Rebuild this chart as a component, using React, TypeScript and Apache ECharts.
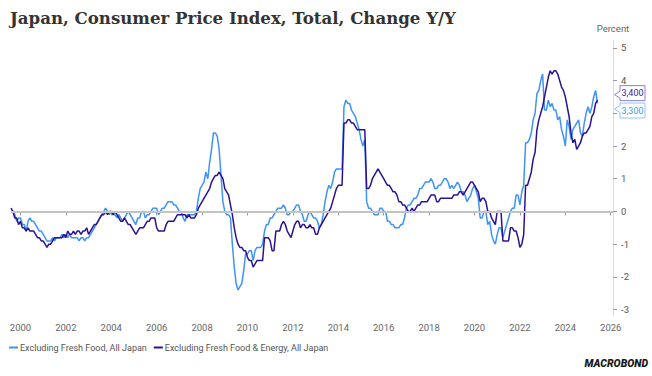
import React, { useEffect, useRef } from "react";
import * as echarts from "echarts";

// Monthly series start: August 1999
const START_YEAR = 1999;
const START_MONTH = 8;

const SERIES_NAMES = [
  "Excluding Fresh Food, All Japan",
  "Excluding Fresh Food & Energy, All Japan",
];

// Japan CPI excluding fresh food, % y/y (Aug 1999 - Jun 2025)
const exFreshFood: number[] = [
  0.0, 0.0, -0.1, -0.3, -0.2,
  -0.2, -0.4, -0.4, -0.6, -0.3, -0.2, -0.3, -0.3, -0.4, -0.5, -0.6, -0.6,
  -0.7, -0.8, -0.9, -0.9, -0.9, -0.8, -0.9, -0.8, -0.8, -0.8, -0.7, -0.8,
  -0.7, -0.8, -0.7, -0.8, -0.8, -0.8, -0.8, -0.9, -0.8, -0.8, -0.9, -0.8,
  -0.8, -0.7, -0.6, -0.5, -0.4, -0.3, -0.2, -0.1, 0.0, 0.1, 0.0, -0.1,
  0.0, -0.1, -0.1, -0.2, -0.1, -0.2, -0.3, -0.2, -0.1, 0.0, -0.1, -0.2,
  -0.3, -0.4, -0.2, -0.2, 0.0, 0.0, -0.2, -0.1, -0.1, 0.0, 0.1, 0.1,
  0.1, -0.1, 0.0, 0.1, 0.1, 0.2, 0.3, 0.3, 0.3, 0.2, 0.2, 0.1,
  0.0, 0.0, -0.2, -0.3, -0.1, -0.1, -0.1, -0.1, -0.1, 0.0, 0.4, 0.7,
  0.8, 0.9, 1.2, 1.0, 1.5, 1.9, 2.4, 2.4, 2.3, 1.9, 1.1, 0.3,
  0.0, -0.1, -0.1, -0.2, -1.0, -1.7, -2.2, -2.4, -2.3, -2.2, -1.8, -1.3,
  -1.3, -1.2, -1.2, -1.5, -1.2, -1.1, -1.1, -1.1, -1.0, -0.6, -0.4, -0.4,
  -0.2, -0.2, -0.1, 0.0, 0.1, 0.1, 0.1, 0.2, 0.1, -0.1, -0.1, 0.0,
  0.0, 0.1, 0.2, 0.2, 0.0, -0.1, -0.3, -0.3, -0.1, 0.0, -0.1, -0.2,
  -0.2, -0.3, -0.5, -0.4, -0.1, 0.3, 0.6, 0.8, 0.7, 0.9, 1.2, 1.3,
  1.3, 1.3, 1.3, 3.2, 3.4, 3.3, 3.3, 3.1, 3.0, 2.9, 2.7, 2.5,
  2.2, 2.0, 2.2, 0.3, 0.1, 0.1, 0.0, -0.1, -0.1, -0.1, 0.1, 0.1,
  0.0, 0.0, -0.3, -0.3, -0.4, -0.4, -0.5, -0.5, -0.5, -0.4, -0.4, -0.2,
  0.1, 0.2, 0.2, 0.3, 0.4, 0.4, 0.5, 0.7, 0.7, 0.8, 0.9, 0.9,
  0.9, 1.0, 0.9, 0.7, 0.7, 0.8, 0.8, 0.9, 1.0, 1.0, 0.9, 0.7,
  0.8, 0.7, 0.8, 0.9, 0.8, 0.6, 0.6, 0.5, 0.3, 0.4, 0.5, 0.7,
  0.8, 0.6, 0.4, -0.2, -0.2, 0.0, 0.0, -0.4, -0.3, -0.7, -0.9, -1.0,
  -0.7, -0.5, -0.5, -0.8, -0.6, -0.4, -0.2, 0.0, 0.1, 0.1, 0.5, 0.5,
  0.2, 0.6, 0.8, 2.1, 2.1, 2.2, 2.4, 2.8, 3.0, 3.6, 3.7, 4.0,
  4.2, 3.1, 3.1, 3.4, 3.2, 3.3, 3.1, 3.1, 2.8, 2.9, 2.5, 2.3,
  2.0, 2.8, 2.6, 2.2, 2.5, 2.6, 2.7, 2.8, 2.4, 2.3, 2.7, 3.0,
  3.2, 3.0, 3.2, 3.5, 3.7, 3.3,
];

// Japan CPI excluding fresh food & energy, % y/y (Aug 1999 - Jun 2025)
const exFreshFoodEnergy: number[] = [
  0.1, 0.0, -0.2, -0.2, -0.4,
  -0.3, -0.5, -0.5, -0.6, -0.5, -0.6, -0.6, -0.6, -0.7, -0.8, -0.8, -0.9,
  -0.9, -1.0, -1.1, -1.0, -1.0, -0.9, -0.8, -0.8, -0.8, -0.8, -0.8, -0.7,
  -0.8, -0.6, -0.7, -0.7, -0.6, -0.7, -0.6, -0.6, -0.7, -0.6, -0.6, -0.5,
  -0.7, -0.6, -0.5, -0.4, -0.4, -0.3, -0.2, -0.1, -0.1, 0.0, -0.1, 0.0,
  0.0, -0.1, 0.0, -0.1, -0.2, -0.3, -0.3, -0.2, -0.3, -0.4, -0.4, -0.5,
  -0.6, -0.7, -0.6, -0.5, -0.5, -0.5, -0.4, -0.3, -0.3, -0.2, -0.2, -0.2,
  -0.5, -0.6, -0.6, -0.6, -0.6, -0.4, -0.3, -0.3, -0.3, -0.3, -0.2, -0.1,
  -0.1, -0.1, -0.1, -0.1, -0.2, -0.1, -0.2, -0.2, -0.2, -0.1, 0.1, 0.2,
  0.3, 0.4, 0.5, 0.6, 0.7, 0.9, 1.0, 1.1, 1.1, 1.2, 1.1, 1.0,
  0.7, 0.6, 0.5, 0.2, -0.1, -0.5, -0.8, -1.0, -1.1, -1.1, -1.2, -1.2,
  -1.4, -1.5, -1.5, -1.7, -1.6, -1.5, -1.5, -1.5, -1.5, -0.8, -0.8, -0.8,
  -0.9, -1.2, -1.2, -0.6, -0.6, -0.6, -0.4, -0.3, -0.4, -0.6, -0.7, -0.8,
  -0.6, -0.4, -0.3, -0.3, -0.5, -0.4, -0.4, -0.5, -0.5, -0.4, -0.5, -0.5,
  -0.7, -0.7, -0.5, -0.4, -0.3, -0.2, -0.1, 0.0, 0.1, 0.3, 0.5, 0.7,
  0.8, 0.8, 0.8, 2.7, 2.7, 2.8, 2.8, 2.7, 2.7, 2.6, 2.5, 2.5,
  2.5, 2.5, 2.5, 0.7, 0.7, 0.8, 1.0, 1.1, 1.2, 1.3, 1.2, 1.1,
  1.0, 0.9, 0.8, 0.8, 0.7, 0.6, 0.6, 0.5, 0.3, 0.3, 0.2, 0.2,
  0.1, 0.0, 0.0, 0.1, 0.0, 0.1, 0.2, 0.2, 0.3, 0.3, 0.3, 0.3,
  0.4, 0.5, 0.5, 0.5, 0.3, 0.3, 0.4, 0.4, 0.4, 0.4, 0.4, 0.4,
  0.4, 0.5, 0.5, 0.5, 0.6, 0.6, 0.5, 0.6, 0.7, 0.8, 0.9, 0.9,
  0.8, 0.7, 0.6, 0.3, 0.4, 0.4, 0.3, 0.0, 0.0, -0.2, -0.3, -0.4,
  0.0, 0.0, 0.0, -0.9, -0.9, -0.9, -0.9, -0.5, -0.5, -0.6, -0.6, -0.8,
  -1.1, -1.0, -0.7, 0.8, 0.8, 1.0, 1.2, 1.6, 1.8, 2.5, 2.8, 3.0,
  3.2, 3.5, 3.8, 4.1, 4.3, 4.2, 4.3, 4.3, 4.2, 4.0, 3.8, 3.7,
  3.5, 3.2, 2.9, 2.4, 2.1, 2.2, 1.9, 2.0, 2.1, 2.3, 2.4, 2.4,
  2.5, 2.6, 2.9, 3.0, 3.3, 3.4,
];

const xTickYears = [2000, 2002, 2004, 2006, 2008, 2010, 2012, 2014, 2016, 2018, 2020, 2022, 2024, 2026];
const yTicks = [-3, -2, -1, 0, 1, 2, 3, 4, 5];
// "3" is hidden behind the end-value labels in the reference
const yTickLabels = [-3, -2, -1, 0, 1, 2, 4, 5];

const COLORS = ["#3d94f5", "#2b1196"];
const LABEL_BORDERS = ["#92c3f8", "#8b80cf"];
const LABEL_TEXT = ["#3d94f5", "#3a259e"];

const FONT = "Roboto, 'Noto Sans', sans-serif";

const toPoints = (vals: number[]) =>
  vals.map((v, i) => [START_YEAR + (START_MONTH - 1 + i) / 12, v]);

export default function App() {
  const ref = useRef<HTMLDivElement>(null);

  useEffect(() => {
    if (!ref.current) return;
    const chart = echarts.init(ref.current, undefined, { renderer: "svg" });
    const xMin = START_YEAR + (START_MONTH - 1) / 12;
    const xMax = 2026.1;
    const seriesData = [exFreshFood, exFreshFoodEnergy];

    chart.setOption({
      animation: false,
      textStyle: { fontFamily: FONT },
      title: {
        text: "Japan, Consumer Price Index, Total, Change Y/Y",
        left: 5,
        top: 4,
        textStyle: {
          fontFamily: "'DejaVu Serif', serif",
          fontWeight: "bold",
          fontSize: 16.6,
          color: "#333333",
        },
      },
      grid: { left: 11, right: 39, top: 40, bottom: 60.5 },
      legend: {
        data: SERIES_NAMES,
        left: 4,
        top: 338,
        icon: "rect",
        itemWidth: 9,
        itemHeight: 2,
        itemGap: 7,
        textStyle: { color: "#555", fontSize: 9, fontFamily: FONT, padding: [0, 0, 0, -3] },
      },
      xAxis: {
        type: "value",
        min: xMin,
        max: xMax,
        splitLine: { show: false },
        axisLine: { show: true, lineStyle: { color: "#dcdcdc", width: 1 } },
        axisTick: { show: true, customValues: xTickYears, length: 4, lineStyle: { color: "#999" } },
        axisLabel: {
          customValues: xTickYears,
          formatter: (v: number) => String(Math.round(v)),
          color: "#666",
          fontSize: 9.5,
          margin: 7,
          fontFamily: FONT,
        },
      },
      yAxis: {
        type: "value",
        position: "right",
        min: -3.18,
        max: 5.24,
        name: "Percent",
        nameLocation: "end",
        nameGap: 7,
        nameTextStyle: { color: "#666", fontSize: 9.5, align: "center", fontFamily: FONT },
        splitLine: { show: false },
        axisLine: { show: true, lineStyle: { color: "#dcdcdc", width: 1 } },
        axisTick: { show: true, customValues: yTicks, length: 4, lineStyle: { color: "#999" } },
        axisLabel: {
          customValues: yTickLabels,
          color: "#555",
          fontSize: 9.5,
          margin: 8,
          fontFamily: FONT,
        },
      },
      series: [
        {
          type: "line",
          name: "zero",
          data: [[xMin, 0]],
          symbol: "none",
          lineStyle: { opacity: 0 },
          silent: true,
          z: 1,
          markLine: {
            silent: true,
            symbol: ["none", "none"],
            label: { show: false },
            lineStyle: { color: "#c3c3c3", width: 2, type: "solid" },
            data: [{ yAxis: 0 }],
          },
        },
        ...SERIES_NAMES.map((name, i) => ({
          type: "line",
          name,
          data: toPoints(seriesData[i]),
          symbol: "none",
          showSymbol: false,
          lineStyle: { width: 1.5, color: COLORS[i] },
          itemStyle: { color: COLORS[i] },
          z: 3 + i,
        })),
      ],
    });

    // End-value labels at the right axis
    const lastVals = seriesData.map((s) => s[s.length - 1]);
    const axisX = chart.convertToPixel({ xAxisIndex: 0 }, xMax) as number;
    const ys = lastVals.map((v) => chart.convertToPixel({ yAxisIndex: 0 }, v) as number);
    const mid = (ys[0] + ys[1]) / 2;
    const upperIdx = lastVals[0] >= lastVals[1] ? 0 : 1;
    const graphics: any[] = [];
    lastVals.forEach((v, i) => {
      const cy = i === upperIdx ? mid - 8.7 : mid + 8.7;
      const tipY = i === upperIdx ? cy + 1.5 : cy - 1.5;
      const bx = axisX + 7;
      const R = axisX + 32;
      const top = cy - 7.5;
      const bottom = cy + 7.5;
      graphics.push({
        type: "polygon",
        shape: {
          points: [
            [bx, top],
            [R, top],
            [R, bottom],
            [bx, bottom],
            [bx, tipY + 3.5],
            [axisX + 1.5, tipY],
            [bx, tipY - 3.5],
          ],
        },
        style: { fill: "#ffffff", stroke: LABEL_BORDERS[i], lineWidth: 1 },
        z: 10,
      });
      graphics.push({
        type: "text",
        x: (bx + R) / 2,
        y: cy,
        style: {
          text: v.toFixed(3).replace(".", ","),
          fill: LABEL_TEXT[i],
          fontSize: 9,
          fontFamily: FONT,
          align: "center",
          verticalAlign: "middle",
        },
        z: 11,
      });
    });
    graphics.push({
      type: "text",
      right: 4,
      top: 358,
      style: {
        text: "MACROBOND",
        fill: "#1a1a1a",
        fontSize: 10.5,
        fontWeight: 900,
        fontStyle: "italic",
        fontFamily: FONT,
      },
      z: 11,
    });
    chart.setOption({ graphic: graphics });

    return () => chart.dispose();
  }, []);

  return (
    <div
      ref={ref}
      style={{ position: "absolute", left: 0, top: 0, width: 652, height: 376, background: "#fff" }}
    />
  );
}
